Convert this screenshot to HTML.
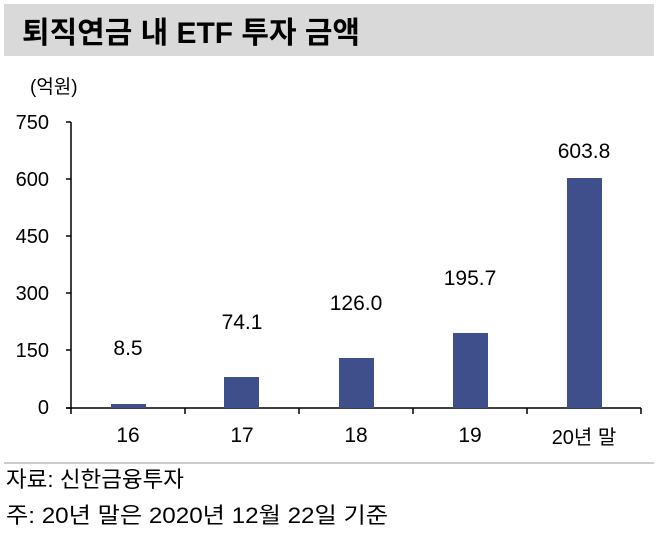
<!DOCTYPE html>
<html><head><meta charset="utf-8"><style>
body{margin:0;width:658px;height:537px;background:#fff;overflow:hidden;font-family:"Liberation Sans","Noto Sans CJK KR",sans-serif;}
</style></head><body>
<svg width="658" height="537" xmlns="http://www.w3.org/2000/svg" font-family="Liberation Sans, Noto Sans CJK KR, sans-serif">
<rect x="4" y="4" width="650" height="52" fill="#d9d9d9"/>
<text x="22" y="43" font-size="30" font-weight="bold" fill="#000" textLength="338" lengthAdjust="spacingAndGlyphs">퇴직연금 내 ETF 투자 금액</text>
<text x="30" y="93" font-size="19" fill="#000">(억원)</text>
<g font-size="20" fill="#000" text-anchor="end">
<text x="49" y="129">750</text><text x="49" y="186">600</text><text x="49" y="243">450</text>
<text x="49" y="300">300</text><text x="49" y="357">150</text><text x="49" y="414">0</text>
</g>
<g stroke="#000" stroke-width="1.5">
<line x1="71" y1="122" x2="71" y2="408"/>
<line x1="66" y1="122" x2="71" y2="122"/><line x1="66" y1="179" x2="71" y2="179"/>
<line x1="66" y1="236" x2="71" y2="236"/><line x1="66" y1="293" x2="71" y2="293"/>
<line x1="66" y1="350" x2="71" y2="350"/><line x1="66" y1="408" x2="71" y2="408"/>
<line x1="66" y1="408" x2="641" y2="408"/>
<line x1="71" y1="408" x2="71" y2="414"/><line x1="185" y1="408" x2="185" y2="414"/>
<line x1="299" y1="408" x2="299" y2="414"/><line x1="413" y1="408" x2="413" y2="414"/>
<line x1="527" y1="408" x2="527" y2="414"/><line x1="641" y1="408" x2="641" y2="414"/>
</g>
<g fill="#3f4f8c">
<rect x="111" y="404" width="35" height="4"/>
<rect x="224" y="377" width="35" height="31"/>
<rect x="339" y="358" width="35" height="50"/>
<rect x="453" y="333" width="35" height="75"/>
<rect x="567" y="178" width="35" height="230"/>
</g>
<g font-size="21" fill="#000" text-anchor="middle">
<text x="128" y="355">8.5</text><text x="242" y="329">74.1</text><text x="356" y="310">126.0</text>
<text x="470" y="285">195.7</text><text x="584" y="158">603.8</text>
<text x="128" y="442">16</text><text x="242" y="442">17</text><text x="356" y="442">18</text>
<text x="470" y="442">19</text><text x="584" y="444" font-size="20">20년 말</text>
</g>
<line x1="4" y1="463" x2="654" y2="463" stroke="#999" stroke-width="1"/>
<text x="6" y="487" font-size="22" fill="#000" textLength="178" lengthAdjust="spacingAndGlyphs">자료: 신한금융투자</text>
<text x="6" y="523" font-size="22" fill="#000" textLength="382" lengthAdjust="spacingAndGlyphs">주: 20년 말은 2020년 12월 22일 기준</text>
</svg>
</body></html>
